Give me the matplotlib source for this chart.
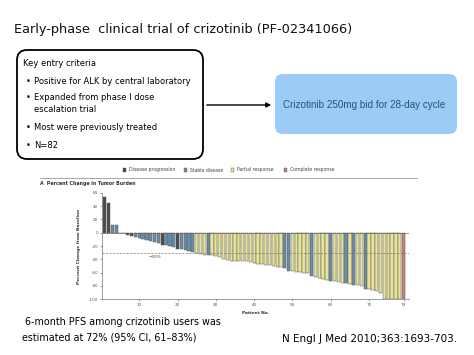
import numpy as np
import matplotlib
matplotlib.use("Agg")
from matplotlib import pyplot as plt
from matplotlib.patches import FancyBboxPatch, Rectangle

# ---- data ----
change = [54, 44, 12, 12, 0, -1, -3, -5, -7, -8,
          -10, -11, -12, -14, -16, -18, -19, -20, -21, -25,
          -25, -26, -27, -29, -31, -32, -33, -34, -34, -35,
          -37, -40, -41, -42, -42, -43, -43, -43, -44, -46,
          -47, -47, -48, -49, -50, -51, -52, -53, -57, -58,
          -59, -59, -60, -61, -65, -67, -68, -70, -71, -72,
          -73, -74, -75, -76, -77, -78, -79, -80, -84, -85,
          -86, -88, -90, -100, -100, -100, -100, -100, -100]
response = (["PD", "PD", "SD", "SD", "SD", "SD", "PD", "PD"]
            + ["SD"] * 7 + ["PD"] + ["SD"] * 3 + ["PD"] + ["SD"] * 4
            + ["PR"] * 3 + ["SD"] + ["PR"] * 19 + ["SD", "SD"]
            + ["PR"] * 5 + ["SD"] + ["PR"] * 4 + ["SD"] + ["PR"] * 3
            + ["SD"] + ["PR"] + ["SD"] + ["PR"] * 2 + ["SD"]
            + ["PR"] * 9 + ["CR"])
categories = ["Disease progression", "Stable disease", "Partial response", "Complete response"]
cat_keys = ["PD", "SD", "PR", "CR"]
cat_colors = {"PD": "#4b4b4b", "SD": "#6a8ea6", "PR": "#e8e39c", "CR": "#c9807b"}
xticks = [10, 20, 30, 40, 50, 60, 70, 79]
yticks = [60, 40, 20, 0, -20, -40, -60, -80, -100]

bullet_lines = [("Positive for ALK by central laboratory", True),
                ("Expanded from phase I dose", True),
                ("escalation trial", False),
                ("Most were previously treated", True),
                ("N=82", True)]

W, H = 474, 355
fig = plt.figure(figsize=(W / 100, H / 100), dpi=100)
fig.patch.set_facecolor("white")

# overlay axes in pixel coords for the slide
ov = fig.add_axes([0, 0, 1, 1])
ov.set_xlim(0, W)
ov.set_ylim(H, 0)
ov.axis("off")

font = "DejaVu Sans"
ov.text(14, 29, "Early-phase  clinical trial of crizotinib (PF-02341066)",
        fontsize=9.3, family=font, va="center", ha="left", color="#111111")

# criteria box
ov.add_patch(FancyBboxPatch((17, 50), 186, 109, boxstyle="round,pad=0,rounding_size=10",
                            fc="white", ec="black", lw=1.3))
ov.text(23, 64, "Key entry criteria", fontsize=6, family=font, va="center")
ys = [81, 98, 110, 127, 145]
for y, (b, dot) in zip(ys, bullet_lines):
    if dot:
        ov.text(26, y, "\u2022", fontsize=6, family=font, va="center")
    ov.text(34, y, b, fontsize=6, family=font, va="center")

# arrow
ov.annotate("", xy=(274, 105), xytext=(204, 105),
            arrowprops=dict(arrowstyle="-|>", color="black", lw=1.0, mutation_scale=7))

# blue box
ov.add_patch(FancyBboxPatch((275, 74), 182, 60, boxstyle="round,pad=0,rounding_size=8",
                            fc="#9ccbf5", ec="none"))
ov.text(364, 105, "Crizotinib 250mg bid for 28-day cycle", fontsize=7.1,
        family="Liberation Sans", color="#2b4d80", ha="center", va="center")

# legend row
lx = [123, 184, 231, 284]
for x, k, c in zip(lx, cat_keys, categories):
    ov.add_patch(Rectangle((x, 168), 3.5, 3.5, fc=cat_colors[k], ec="#555555", lw=0.3))
    ov.text(x + 6, 170, c, fontsize=3.3, family=font, va="center", color="#444444")
ov.plot([40, 417], [177.5, 177.5], color="#999999", lw=0.6)
ov.text(40, 184, "A  Percent Change in Tumor Burden", fontsize=3.4, family=font,
        weight="bold", va="center", color="#333333")

# bottom texts
ov.text(22, 322, " 6-month PFS among crizotinib users was", fontsize=6.9, family=font, va="center")
ov.text(22, 338, "estimated at 72% (95% CI, 61\u201383%)", fontsize=6.9, family=font, va="center")
ov.text(282, 339, "N Engl J Med 2010;363:1693-703.", fontsize=7.5, family=font, va="center")

# waterfall chart
ax = fig.add_axes([101.7 / W, 1 - 299.3 / H, 307.6 / W, 106.6 / H])
x = np.arange(1, len(change) + 1)
colors = [cat_colors[r] for r in response]
ax.bar(x, change, width=0.85, color=colors, edgecolor="#5a5a5a", linewidth=0.35)
ax.axhline(0, color="#666666", lw=0.5)
ax.axhline(-30, color="#777777", lw=0.5, ls=(0, (3, 2)))
ax.text(14, -33, "\u221230%", fontsize=3, ha="center", va="top", color="#444444")
ax.set_xlim(0.2, 80.5)
ax.set_ylim(-100, 60)
ax.set_xticks(xticks)
ax.set_yticks(yticks)
ax.set_yticklabels([str(v) for v in yticks])
ax.tick_params(labelsize=3, length=1.5, width=0.4, pad=1, colors="#555555")
for s in ["top", "right"]:
    ax.spines[s].set_visible(False)
for s in ["left", "bottom"]:
    ax.spines[s].set_linewidth(0.5)
    ax.spines[s].set_color("#777777")
ax.set_ylabel("Percent Change from Baseline", fontsize=3.2, weight="bold", labelpad=6, color="#333333")
ax.set_xlabel("Patient No.", fontsize=3.2, weight="bold", labelpad=3, color="#333333")
ax.patch.set_alpha(0)

fig.savefig("out.png", dpi=100)
